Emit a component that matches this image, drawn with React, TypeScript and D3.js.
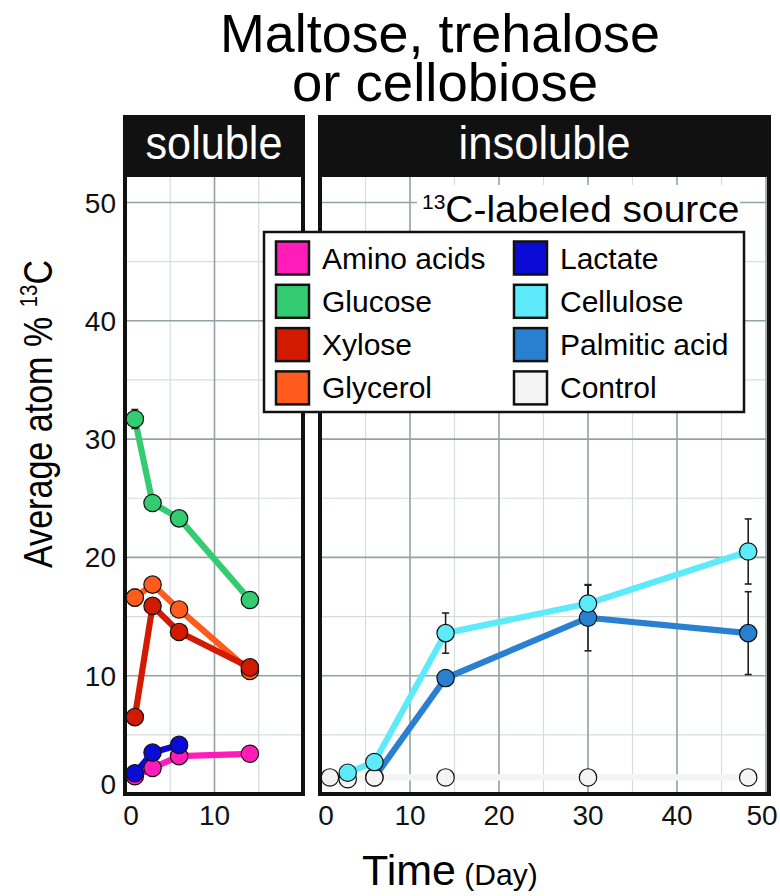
import React from "react";
import * as d3 from "d3";

const titleLines = ["Maltose, trehalose", "or cellobiose"];
const panelLabels = ["soluble", "insoluble"];

const seriesNames = ["Amino acids", "Glucose", "Xylose", "Glycerol", "Lactate", "Cellulose", "Palmitic acid", "Control"];
const seriesColors = ["#ff1cb8", "#33cc70", "#d21a00", "#ff5b1c", "#0b0bd8", "#5debfb", "#2a80d0", "#f4f4f4"];
const seriesPanels = ["soluble", "soluble", "soluble", "soluble", "soluble", "insoluble", "insoluble", "insoluble"];

const aminoDays = [1, 3, 6, 14];
const aminoMean = [1.5, 2.2, 3.2, 3.4];
const aminoErr = [0, 0, 0, 0];
const glucoseDays = [1, 3, 6, 14];
const glucoseMean = [31.7, 24.6, 23.3, 16.4];
const glucoseErr = [0.8, 0.4, 0, 0];
const xyloseDays = [1, 3, 6, 14];
const xyloseMean = [6.5, 15.9, 13.7, 10.7];
const xyloseErr = [0, 0.5, 0, 0];
const glycerolDays = [1, 3, 6, 14];
const glycerolMean = [16.6, 17.7, 15.6, 10.4];
const glycerolErr = [0.7, 0, 0.4, 0];
const lactateDays = [1, 3, 6];
const lactateMean = [1.75, 3.5, 4.15];
const lactateErr = [0, 0, 0];
const celluloseDays = [3, 6, 14, 30, 48];
const celluloseMean = [1.8, 2.7, 13.6, 16.1, 20.5];
const celluloseErr = [0, 0, 1.7, 1.55, 2.75];
const palmiticDays = [6, 14, 30, 48];
const palmiticMean = [1.4, 9.8, 14.9, 13.6];
const palmiticErr = [0, 0, 2.8, 3.5];
const controlDays = [1, 3, 6, 14, 30, 48];
const controlMean = [1.4, 1.25, 1.4, 1.4, 1.4, 1.4];
const controlErr = [0, 0, 0, 0, 0, 0];

const allDays = [aminoDays, glucoseDays, xyloseDays, glycerolDays, lactateDays, celluloseDays, palmiticDays, controlDays];
const allMeans = [aminoMean, glucoseMean, xyloseMean, glycerolMean, lactateMean, celluloseMean, palmiticMean, controlMean];
const allErrs = [aminoErr, glucoseErr, xyloseErr, glycerolErr, lactateErr, celluloseErr, palmiticErr, controlErr];

// drawing order of layers (index into series)
const lineOrder = [7, 0, 4, 3, 2, 1, 6, 5];
const pointOrder = [0, 1, 3, 2, 4, 6, 7, 5];

const yMajor = [0, 10, 20, 30, 40, 50];
const yMinor = [5, 15, 25, 35, 45];
const xMajorLeft = [0, 10, 20];
const xMinorLeft = [5, 15];
const xLabelsLeft = [0, 10];
const xMajorRight = [0, 10, 20, 30, 40, 50];
const xMinorRight = [5, 15, 25, 35, 45];

const FONT = "'Liberation Sans', Arial, Helvetica, sans-serif";

export default function App() {
  const y = d3.scaleLinear().domain([0, 50]).range([794, 202.5]);
  const xL = d3.scaleLinear().domain([0, 20]).range([126, 303]);
  const xR = d3.scaleLinear().domain([0, 50]).range([321, 766]);

  const panels = [
    { name: "soluble", x: xL, left: 125, right: 303, major: xMajorLeft, minor: xMinorLeft, labels: xLabelsLeft, tl: 137 },
    { name: "insoluble", x: xR, left: 320, right: 769, major: xMajorRight, minor: xMinorRight, labels: xMajorRight, tl: 172 },
  ];
  const top = 175;
  const bottom = 794;

  const series = seriesNames.map((name, i) => ({
    name,
    color: seriesColors[i],
    panel: seriesPanels[i],
    pts: allDays[i].map((d, j) => ({ d, m: allMeans[i][j], e: allErrs[i][j] })),
  }));

  const line = (xs: any) =>
    d3.line<any>().x((p) => xs(p.d)).y((p) => y(p.m));

  return (
    <svg width={780} height={896} style={{ position: "absolute", left: 0, top: 0, background: "#fff" }} fontFamily={FONT}>
      <rect x={0} y={0} width={780} height={896} fill="#fff" />
      {/* Title */}
      <text x={440} y={52} fontSize={54} textAnchor="middle" fill="#000" textLength={440} lengthAdjust="spacingAndGlyphs">{titleLines[0]}</text>
      <text x={445} y={101} fontSize={54} textAnchor="middle" fill="#000" textLength={306} lengthAdjust="spacingAndGlyphs">{titleLines[1]}</text>

      {panels.map((p, pi) => {
        const xs = p.x;
        const ser = series.filter((s) => s.panel === p.name);
        return (
          <g key={p.name}>
            {/* grid */}
            {yMinor.map((v) => (
              <line key={"ym" + v} x1={p.left} x2={p.right} y1={y(v)} y2={y(v)} stroke="#d6dddd" strokeWidth={1.2} />
            ))}
            {p.minor.map((v) => (
              <line key={"xm" + v} x1={xs(v)} x2={xs(v)} y1={top} y2={bottom} stroke="#d6dddd" strokeWidth={1.2} />
            ))}
            {yMajor.map((v) => (
              <line key={"yM" + v} x1={p.left} x2={p.right} y1={y(v)} y2={y(v)} stroke="#93a2a2" strokeWidth={1.6} />
            ))}
            {p.major.map((v) => (
              <line key={"xM" + v} x1={xs(v)} x2={xs(v)} y1={top} y2={bottom} stroke="#93a2a2" strokeWidth={1.6} />
            ))}
            {/* lines */}
            {lineOrder
              .map((i) => series[i])
              .filter((s) => s.panel === p.name)
              .map((s) => (
                <path key={"l" + s.name} d={line(xs)(s.pts) || ""} fill="none" stroke={s.color} strokeWidth={6.2} strokeLinejoin="round" />
              ))}
            {/* error bars */}
            {ser.map((s) =>
              s.pts
                .filter((q) => q.e > 0)
                .map((q, k) => (
                  <g key={"e" + s.name + k} stroke="#222" strokeWidth={1.6}>
                    <line x1={xs(q.d)} x2={xs(q.d)} y1={y(q.m - q.e)} y2={y(q.m + q.e)} />
                    <line x1={xs(q.d) - 3.5} x2={xs(q.d) + 3.5} y1={y(q.m - q.e)} y2={y(q.m - q.e)} />
                    <line x1={xs(q.d) - 3.5} x2={xs(q.d) + 3.5} y1={y(q.m + q.e)} y2={y(q.m + q.e)} />
                  </g>
                ))
            )}
            {/* points */}
            {pointOrder
              .map((i) => series[i])
              .filter((s) => s.panel === p.name)
              .map((s) =>
                s.pts.map((q, k) => (
                  <circle key={"c" + s.name + k} cx={xs(q.d)} cy={y(q.m)} r={8.7} fill={s.color} stroke="#111" strokeWidth={1.2} />
                ))
              )}
            {/* frame */}
            <rect x={p.left} y={top} width={p.right - p.left} height={bottom - top} fill="none" stroke="#111" strokeWidth={4} />
            {/* strip */}
            <rect x={p.left - 2} y={115} width={p.right - p.left + 4} height={top - 115} fill="#111" />
            <text x={(p.left + p.right) / 2} y={159} fontSize={46} textAnchor="middle" fill="#fff" textLength={p.tl} lengthAdjust="spacingAndGlyphs">{panelLabels[pi]}</text>
            {/* x tick labels */}
            {p.labels.map((v) => (
              <text key={"xl" + v} x={Math.min(Math.max(xs(v), p.left + 6), 762)} y={825} fontSize={28} textAnchor="middle" fill="#111">{v}</text>
            ))}
          </g>
        );
      })}

      {/* y tick labels */}
      {yMajor.map((v) => (
        <text key={"yl" + v} x={116} y={Math.min(y(v), 784) + 10} fontSize={28} textAnchor="end" fill="#111">{v}</text>
      ))}

      {/* y axis title */}
      <text transform="translate(52,414) rotate(-90)" textAnchor="middle" fontSize={40} fill="#000" textLength={308} lengthAdjust="spacingAndGlyphs">
        Average atom %{" "}
        <tspan fontSize={24} dy={-15}>13</tspan>
        <tspan dy={15}>C</tspan>
      </text>

      {/* x axis title */}
      <text x={362} y={885} fontSize={43} fill="#000">
        Time<tspan fontSize={30}> (Day)</tspan>
      </text>

      {/* legend */}
      <rect x={417} y={185} width={323} height={46} fill="#fff" />
      <text x={422} y={222} fill="#000">
        <tspan fontSize={21} dy={-13}>13</tspan>
        <tspan fontSize={37} dy={13} textLength={294} lengthAdjust="spacingAndGlyphs">C-labeled source</tspan>
      </text>
      <rect x={264} y={232} width={480} height={180} fill="#fff" stroke="#111" strokeWidth={2.5} />
      {seriesNames.map((n, i) => {
        const col = Math.floor(i / 4);
        const row = i % 4;
        const sx = col === 0 ? 276 : 514;
        const cy = 258 + row * 43.3;
        return (
          <g key={"lg" + n}>
            <rect x={sx} y={cy - 16.5} width={33} height={33} fill={seriesColors[i]} stroke="#111" strokeWidth={2.5} />
            <text x={sx + 46} y={cy + 10.5} fontSize={30} fill="#000">{n}</text>
          </g>
        );
      })}
    </svg>
  );
}
